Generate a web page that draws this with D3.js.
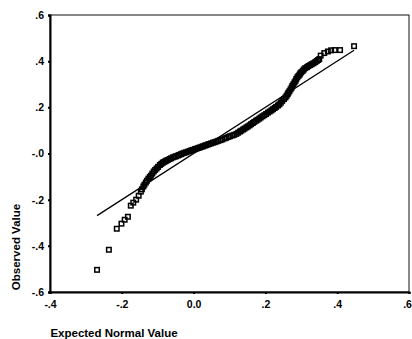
<!DOCTYPE html>
<html>
<head>
<meta charset="utf-8">
<script src="https://cdn.jsdelivr.net/npm/d3@7"></script>
<style>
  html, body { margin: 0; padding: 0; background: #fff; }
  svg { display: block; }
  text { font-family: "Liberation Sans", Arial, sans-serif; font-weight: bold; fill: #000; }
</style>
</head>
<body>
<svg id="chart" width="412" height="339"></svg>
<script>
// Normal Q-Q plot: expected normal value vs observed value (sorted residuals)
const expected = [
  -0.269, -0.236, -0.214, -0.201, -0.192, -0.183, -0.175, -0.168, -0.160, -0.153,
  -0.147, -0.144, -0.140, -0.137, -0.133, -0.130, -0.126, -0.122, -0.119, -0.115,
  -0.111, -0.107, -0.103, -0.099, -0.094,
  -0.090, -0.086, -0.083, -0.079, -0.076, -0.072, -0.067, -0.063, -0.058, -0.053,
  -0.049, -0.044, -0.040, -0.035, -0.031,
  -0.026, -0.021, -0.016, -0.011, -0.006, -0.001, 0.004, 0.008, 0.013, 0.017,
  0.022, 0.026, 0.031, 0.035, 0.040, 0.044, 0.049, 0.054, 0.059, 0.064,
  0.069, 0.075, 0.080, 0.086, 0.091, 0.097, 0.102, 0.108, 0.113, 0.119,
  0.124, 0.129, 0.133, 0.138, 0.142, 0.147, 0.151, 0.156, 0.160, 0.165,
  0.169, 0.174, 0.178, 0.183, 0.187, 0.192, 0.197, 0.202, 0.207, 0.212,
  0.217, 0.221, 0.226, 0.230, 0.235, 0.239,
  0.243, 0.247, 0.252, 0.256, 0.259, 0.262, 0.264, 0.267, 0.270, 0.273,
  0.275, 0.278, 0.281, 0.284, 0.286, 0.289, 0.292, 0.295, 0.297, 0.300,
  0.304, 0.307, 0.311, 0.316, 0.320, 0.325, 0.329, 0.334, 0.339, 0.343,
  0.347, 0.350,
  0.354, 0.364, 0.374, 0.383, 0.393, 0.408, 0.447
];
const observed = [
  -0.504, -0.417, -0.326, -0.304, -0.287, -0.274, -0.226, -0.213, -0.200, -0.183,
  -0.165, -0.155, -0.143, -0.135, -0.126, -0.118, -0.109, -0.102, -0.096, -0.087,
  -0.078, -0.071, -0.065, -0.058, -0.050,
  -0.045, -0.040, -0.037, -0.034, -0.031, -0.028, -0.024, -0.021, -0.017, -0.014,
  -0.012, -0.009, -0.006, -0.003, 0.000,
  0.003, 0.005, 0.008, 0.011, 0.014, 0.016, 0.019, 0.021, 0.024, 0.026,
  0.029, 0.031, 0.034, 0.036, 0.039, 0.041, 0.044, 0.047, 0.049, 0.052,
  0.055, 0.058, 0.061, 0.065, 0.068, 0.072, 0.075, 0.078, 0.081, 0.085,
  0.090, 0.095, 0.099, 0.104, 0.108, 0.113, 0.117, 0.122, 0.127, 0.132,
  0.137, 0.142, 0.146, 0.151, 0.156, 0.161, 0.166, 0.171, 0.177, 0.182,
  0.187, 0.192, 0.197, 0.202, 0.208, 0.213,
  0.220, 0.228, 0.236, 0.243, 0.250, 0.257, 0.263, 0.270, 0.278, 0.285,
  0.293, 0.300, 0.308, 0.315, 0.323, 0.330, 0.336, 0.341, 0.347, 0.352,
  0.358, 0.364, 0.370, 0.374, 0.379, 0.383, 0.387, 0.391, 0.396, 0.401,
  0.405, 0.409,
  0.424, 0.435, 0.442, 0.447, 0.448, 0.448, 0.465
];
const xTicks = [-0.4, -0.2, 0.0, 0.2, 0.4, 0.6];
const xTickLabels = ["-.4", "-.2", "0.0", ".2", ".4", ".6"];
const yTicks = [0.6, 0.4, 0.2, 0.0, -0.2, -0.4, -0.6];
const yTickLabels = [".6", ".4", ".2", "-.0", "-.2", "-.4", "-.6"];
const xTitle = "Expected Normal Value";
const yTitle = "Observed Value";

const svg = d3.select("#chart");
const plot = { left: 50, right: 409, top: 15, bottom: 292 };

const x = d3.scaleLinear().domain([-0.4, 0.6]).range([plot.left, plot.right]);
const y = d3.scaleLinear().domain([-0.6, 0.6]).range([plot.bottom, plot.top]);

// plot frame: thin top/right edges
svg.append("rect")
  .attr("x", plot.left).attr("y", plot.top)
  .attr("width", plot.right - plot.left).attr("height", plot.bottom - plot.top)
  .attr("fill", "none").attr("stroke", "#111").attr("stroke-width", 1);

// axes
const xAxis = d3.axisBottom(x).tickValues(xTicks)
  .tickFormat((d, i) => xTickLabels[i]).tickSize(2).tickPadding(7);
const yAxis = d3.axisLeft(y).tickValues(yTicks)
  .tickFormat((d, i) => yTickLabels[i]).tickSize(2).tickPadding(4);

const gx = svg.append("g").attr("transform", `translate(0,${plot.bottom})`).call(xAxis);
const gy = svg.append("g").attr("transform", `translate(${plot.left},0)`).call(yAxis);

[gx, gy].forEach(g => {
  g.select(".domain").attr("stroke", "#000").attr("stroke-width", 2);
  g.selectAll(".tick line").attr("stroke", "#000").attr("stroke-width", 2);
  g.selectAll(".tick text")
    .style("font-family", '"Liberation Sans", Arial, sans-serif')
    .style("font-weight", "bold").style("font-size", "10.5px").attr("fill", "#000");
});
// last x label sits at the right edge; nudge it so it stays on the page
gx.selectAll(".tick text").filter((d, i) => i === xTicks.length - 1).attr("dx", "-2");

// reference line y = x over the expected range
const ext = d3.extent(expected);
svg.append("line")
  .attr("x1", x(ext[0])).attr("y1", y(ext[0]))
  .attr("x2", x(ext[1])).attr("y2", y(ext[1]))
  .attr("stroke", "#000").attr("stroke-width", 1.3);

// observations as hollow squares
const side = 4.5;
const pts = expected.map((e, i) => ({ e, o: observed[i] }));
svg.append("g").selectAll("rect")
  .data(pts).join("rect")
  .attr("x", d => x(d.e) - side / 2).attr("y", d => y(d.o) - side / 2)
  .attr("width", side).attr("height", side)
  .attr("fill", "none").attr("stroke", "#000").attr("stroke-width", 1.5);

// axis titles
svg.append("text")
  .attr("x", 114).attr("y", 337)
  .attr("text-anchor", "middle")
  .style("font-size", "11.5px")
  .text(xTitle);

svg.append("text")
  .attr("transform", "translate(20,247) rotate(-90)")
  .attr("text-anchor", "middle")
  .style("font-size", "11.5px")
  .text(yTitle);
</script>
</body>
</html>
